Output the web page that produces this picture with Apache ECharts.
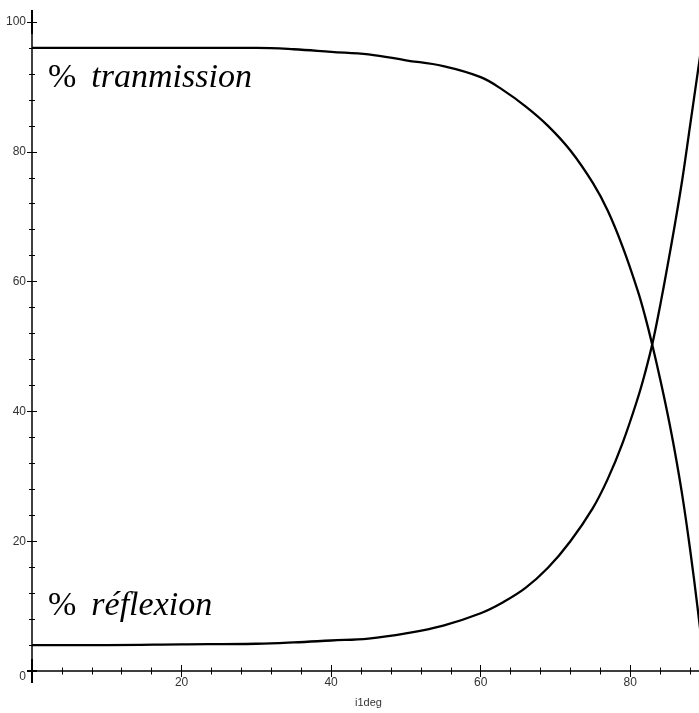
<!DOCTYPE html>
<html>
<head>
<meta charset="utf-8">
<script src="https://cdn.jsdelivr.net/npm/echarts@6/dist/echarts.min.js"></script>
<style>
  html, body { margin: 0; padding: 0; background: #ffffff; }
  #chart { width: 699px; height: 713px; }
</style>
</head>
<body>
<div id="chart"></div>
<script>
// Angle of incidence (degrees)
const angles = [0, 10, 20, 30, 35, 40, 45, 50, 55, 60, 63, 66, 69, 72, 75, 77, 79, 81, 82, 83, 84, 85, 86, 87, 88, 89, 90];
// Reflected share of the light (%)
const reflexion = [4.0, 4.0, 4.1, 4.2, 4.4, 4.7, 5.0, 5.8, 7.0, 8.9, 10.6, 12.8, 15.9, 20.0, 25.1, 29.6, 35.2, 42.0, 46.0, 50.6, 56.3, 62.5, 69.0, 76.0, 84.0, 92.0, 100];
// Transmitted share of the light (%)
const transmission = [96.0, 96.0, 96.0, 96.0, 95.8, 95.4, 95.0, 94.1, 93.2, 91.5, 89.5, 87.0, 84.0, 80.2, 75.2, 70.9, 65.3, 58.6, 54.6, 50.0, 45.0, 39.6, 33.6, 26.8, 18.8, 9.8, 0];

const xTicks = { min: 0, max: 90, major: 20, minor: 4 };
const yTicks = { min: 0, max: 100, major: 20, minor: 4 };
const xName = 'i1deg';
const labelT = 'tranmission';
const labelR = 'réflexion';

const ink = '#000000';
const labelColor = '#333333';
const sans = '"Liberation Sans", Arial, sans-serif';
const serif = '"Liberation Serif", "Times New Roman", serif';

const pairs = (ys) => angles.map((a, i) => [a, ys[i]]);

const chart = echarts.init(document.getElementById('chart'), null, { renderer: 'canvas' });

// three overlapping axes per dimension: the line with its labels,
// then long and short ticks that straddle the line
function xAxes() {
  const base = { type: 'value', min: xTicks.min, max: xTicks.max, position: 'bottom', splitLine: { show: false } };
  return [
    Object.assign({}, base, {
      interval: xTicks.major,
      name: xName, nameLocation: 'middle', nameGap: 26,
      nameTextStyle: { fontFamily: sans, fontSize: 11, color: labelColor },
      axisLine: { show: true, onZero: false, symbol: ['rect', 'none'], symbolSize: [2, 10], lineStyle: { color: ink, width: 1.5 } },
      axisTick: { show: false },
      axisLabel: { show: true, margin: 6, showMinLabel: false, showMaxLabel: false, fontFamily: sans, fontSize: 12, color: labelColor }
    }),
    Object.assign({}, base, {
      interval: xTicks.major, offset: 6,
      axisLine: { show: false, onZero: false },
      axisTick: { show: true, inside: true, length: 12, lineStyle: { color: ink, width: 1 } },
      axisLabel: { show: false }
    }),
    Object.assign({}, base, {
      interval: xTicks.minor, offset: 3.5,
      axisLine: { show: false, onZero: false },
      axisTick: { show: true, inside: true, length: 7, lineStyle: { color: ink, width: 1 } },
      axisLabel: { show: false }
    })
  ];
}

function yAxes() {
  const base = { type: 'value', min: yTicks.min, max: yTicks.max, position: 'left', splitLine: { show: false } };
  return [
    Object.assign({}, base, {
      interval: yTicks.major,
      axisLine: { show: true, onZero: false, symbol: ['rect', 'rect'], symbolSize: [2, 24], lineStyle: { color: ink, width: 1.5 } },
      axisTick: { show: false },
      axisLabel: {
        show: true, margin: 6, fontFamily: sans, fontSize: 12, color: labelColor,
        // the origin label sits a little below the horizontal axis
        formatter: (v) => (v === 0 ? '{z|0}' : String(v)),
        rich: { z: { fontFamily: sans, fontSize: 12, color: labelColor, padding: [12, 0, 0, 0] } }
      }
    }),
    Object.assign({}, base, {
      interval: yTicks.major, offset: 5,
      axisLine: { show: false, onZero: false },
      axisTick: { show: true, inside: true, length: 10, lineStyle: { color: ink, width: 1 } },
      axisLabel: { show: false }
    }),
    Object.assign({}, base, {
      interval: yTicks.minor, offset: 3,
      axisLine: { show: false, onZero: false },
      axisTick: { show: true, inside: true, length: 6, lineStyle: { color: ink, width: 1 } },
      axisLabel: { show: false }
    })
  ];
}

const curve = (name, ys) => ({
  name: name,
  type: 'line',
  xAxisIndex: 0,
  yAxisIndex: 0,
  data: pairs(ys),
  showSymbol: false,
  smooth: 0.4,
  clip: true,
  lineStyle: { color: ink, width: 2.3 }
});

const caption = (word, left, top) => ({
  type: 'text',
  left: left,
  top: top,
  style: {
    text: '{p|%}{w|' + word + '}',
    rich: {
      p: { fontFamily: serif, fontSize: 34, fontStyle: 'normal', fill: ink, padding: [0, 15, 0, 0] },
      w: { fontFamily: serif, fontSize: 34, fontStyle: 'italic', fill: ink }
    }
  }
});

chart.setOption({
  animation: false,
  backgroundColor: '#ffffff',
  grid: { left: 32, right: -6, top: 22, bottom: 42, outerBoundsMode: 'none', containLabel: false },
  xAxis: xAxes(),
  yAxis: yAxes(),
  series: [curve(labelT, transmission), curve(labelR, reflexion)],
  graphic: [caption(labelT, 48, 61), caption(labelR, 48, 589)]
});
</script>
</body>
</html>
